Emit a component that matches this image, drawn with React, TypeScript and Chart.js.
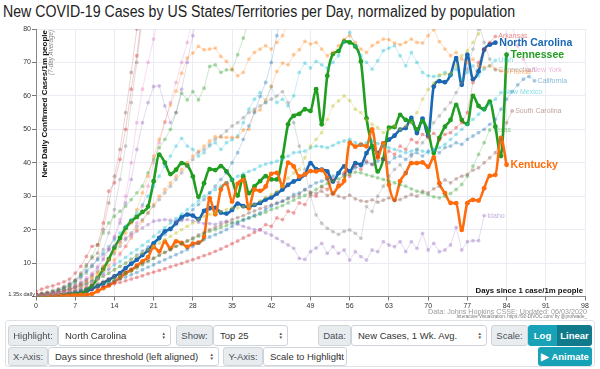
import React, { useEffect, useRef } from "react";
import { Chart, registerables } from "chart.js";
Chart.register(...registerables);

const FONT = '"Liberation Sans", Arial, Helvetica, sans-serif';

const titleText = "New COVID-19 Cases by US States/Territories per Day, normalized by population";
const yTitle = "New Daily Confirmed Cases/1m people";
const ySubTitle = "(7-day Average)";
const xTitle = "Days since 1 case/1m people";
const growthLabel = "1.35x daily";
const sourceLine1 = "Data: Johns Hopkins CSSE; Updated: 06/03/2020";
const sourceLine2 = "Interactive Visualization: https://91-DIVOC.com/ by @profwade_";

const xMax = 98;
const xStep = 7;
const yMax = 80;
const yStep = 10;

// Highlighted series: value index = days since threshold
const northCarolina = [0.3,0.35,0.4,0.45,0.5,0.6,0.75,0.9,1.1,1.5,2.3,3.1,4.0,5.0,6.0,7.0,8.5,9.8,11.0,12.4,13.8,15.9,17.5,19.5,20.2,22,23.7,24.5,24.2,23.1,25.6,26.4,26.5,25.1,24.8,25.9,27.8,27,26.8,27.4,28,29,29.6,30.8,32,33.4,34.4,35.2,36.5,39.9,38.1,37.9,37.4,34.4,36.9,38.9,37.4,39.9,39.4,42.9,44.9,42.9,45.7,46.9,48.1,49.9,50.4,53.4,48.9,53.2,48.1,62.8,64.4,64.1,66.3,71.3,63.3,72.3,65,67.3,73.8,75.3,75.9];
const tennessee = [0.3,0.35,0.4,0.45,0.5,0.55,0.65,0.75,0.8,2.0,3.2,5.5,8.2,11.2,14.6,17.5,20.5,22.5,23.8,25.3,26.9,34.5,42.4,40,36.6,37.9,39.9,39.2,35.9,29.8,33.9,38.1,37.8,39,37.4,34.9,30.2,36,30.9,32.9,34.5,36,35,35,41.7,51.5,54,54.6,56,55.5,62,51.5,66,72.5,73.4,76.3,76,74.8,70.3,53.3,44.9,37.4,41.1,50.5,50.7,54.3,52.8,52.4,50,52.4,49.4,42.9,47.4,50.8,52.8,57.3,52.8,51.6,60,57,56,58.3,50.8,42,72.3];
const kentucky = [0.3,0.3,0.3,0.35,0.35,0.4,0.4,0.4,0.45,0.5,0.8,1.6,2.5,3.3,4.4,5.6,7.0,7.9,9.2,10.5,11.8,14.8,13.5,16.4,14.4,16.5,16,14.8,15.8,16.1,17.9,29.4,24.6,32,33.8,28.4,33.7,34.8,26.4,32,31.6,32.9,36.7,37,33,40,38.9,35.9,36.5,37.5,37.4,37.8,35.5,30.8,33,34.6,46,44.8,45.4,44.9,50,41.6,45.8,33.4,28.9,34.5,36.9,39.9,39.9,40.1,38.8,41.6,33.9,30.9,28,27.9,19.9,27.9,28.9,28.7,32.4,36.1,36.4,47.4,39.4];

// Background states (start at day 0 unless a tail is given)
const bgRed = [1.5,2.2,2.8,3.2,3.8,4.4,5.2,7,9,12,15,15.4,22,31.5,34,41,50,62,72,86];
const bgBrown = [0.8,1,1.3,1.8,2.3,3,4,5,7,9.5,11.5,13,20,28,36,44,55,67,80,95];
const connecticutHead = [0.6,0.8,1,1.4,1.8,2.4,3.1,4,5.5,7,9,11.5,14,19,26,35,45,58,70,84];
const connecticutTail = [90,82,76,71,67.8]; // days 78-82
const newYorkHead = [0.5,0.7,0.9,1.2,1.5,2,2.6,3.4,4.4,5.6,7,9,11.5,14.5,18,23,30,40,52,62,70,77,85,95];
const newYorkTail = [88,81,75,71,67.6]; // days 84-88
const bgPurple = [0.4,0.6,0.8,1,1.3,1.7,2.2,2.9,3.8,5,6.5,8.5,11,14,17.5,22,28,35,44,52,58,62.8,63,57,52,55,62,70,78,88];
const bgPink = [0.4,0.5,0.6,0.8,1,1.3,1.6,2,2.6,3.3,4.2,5.3,6.6,8.2,10,12.5,15,18,22,27,33,40,46,52,58,64,70,76,84];
const bgPeach = [0.5,0.6,0.8,1,1.3,1.7,2.2,2.8,3.6,4.6,5.8,7.2,9,11,13.5,16,19,22,26,31,36,42,47,52.3,57.3,61.4,66.8,71.3,72.8,74.8,73.8,74,74.3,71.8,70.3,68,66,67,71,73,74,75,74,76,78,82];
const florida = [0.3,0.4,0.6,0.8,1.1,1.5,2,2.6,3.3,4.2,5.2,6.4,7.8,9.3,11,13,15,17.5,20,22.5,25,27.5,30,32,34,36,38,40,42,43.5,45,46.5,47.8,47.6,47.6,47.6,47.6,49.8,50,55.3,55.8,58.8,62.8,67.3,69.8,69.3,72.3,73.8,76.3,75.5,76,74,72,73,75,77,78,76,74,73,75,76,77,76.8,75.8,75.3,76,77,76,75.8,78,79.8,76.2,74,72,73,71,70,71,69,68.5,69,68,67.5,67.1];
const bgGreen = [0.4,0.6,0.9,1.3,1.8,2.4,3.2,4.5,6.5,9,12,15.5,19,22,24,25.5,27,29,31,33,37,41,44.5,47,50,55,60.8,58.8,61.3,58.8,62.3,68.8,69.3,67,67.8,67.8,72.3,77.3,82.3];
const olive = [0.3,0.4,0.6,0.8,1,1.3,1.8,2.3,2.9,3.5,4.3,5.1,6,7,8,9,10,11,12,13,14,15,16,17,18,19,20,21,22,23,24,24.5,25,25.5,26,26.5,26.5,26.8,27,27.5,28.6,29.7,30.5,31.5,33,35.4,37,38,41.5,45,47,49,53,57,58.5,60,58.6,56,55,52.8,51.5,50.5,49,50,51,50,51,52,55,59,61.9,63.8,66.3,66.5,66.8,69,72,73.5,76,78.5,82];
const utah = [0.5,0.7,1,1.4,2,2.7,3.5,4.6,6,7.5,9,11,13,15,17,19,21,23,25,27.5,30,33,36,39,42,45,47.3,45,44,42,43,45,46,44,46,46.9,48,52,56,59,61,58,62.8,58,59,57,60,67,69.8,68.3,70.3,69.3,68.3,70,72,76,79,75,72,70,68,70.5,73.5,74.3,75,72,69,73,70,67,66,65.8,66,67,66,68,65,67,69,66,68,69,70.6];
const newMexico = [0.4,0.5,0.7,1,1.3,1.7,2.2,2.7,3.3,4,4.8,5.8,7,8.2,9.4,10.5,11.7,13,14,15.3,16.5,18,19.3,20.6,22,23.3,24.6,26,27.3,28.6,30,31,32,33,34,35,36,36.7,37.4,38,39,39.6,40,40.5,41,42,43,43.2,43.5,44.5,45,44.8,44.5,45.2,46,46.5,47,46,45.5,46,46.5,45.8,45,44.5,44,43.5,43,43.5,44,43.5,43,43.8,44.5,45.5,47,48.5,50,51.5,53,54.5,56,57.5,59,61];
const california = [0.3,0.4,0.5,0.6,0.8,1,1.2,1.5,1.8,2.1,2.5,3,3.5,4,4.6,5.2,5.8,6.5,7.2,8,8.8,9.5,10.3,11,11.8,12.5,13.3,14,15,16,17,17.8,18.5,19.2,20,21,22,22.8,23.5,24.3,25,26,27,27.8,28.5,29.5,30.5,31,32,33,34,34.5,35,36,37,36.5,37.5,38.5,39,40,39.5,40.5,41,40,41.5,42,41,42.5,43,42,43.5,44,43,44.5,45,46,45.5,47,48,49,50,51.5,53,56,59,61.3,63.3,65,65.8,64.5];
const southCarolina = [0.3,0.4,0.5,0.7,0.9,1.2,1.5,1.9,2.3,2.8,3.3,3.9,4.5,5.2,5.9,6.6,7.4,8.2,9,9.8,10.7,11.5,12.4,13.2,14,15,15.8,16.7,17.5,18.4,19.2,20,20.7,21.4,22.2,23,23.6,24.2,25,25.6,26.3,26.8,27.4,28,28.5,29.2,29.8,30.5,31.9,31.2,30.8,31.5,30.2,30.9,30,29.5,30.3,29.2,28.6,28.4,28.9,28.2,28.8,29.5,28.7,29,29.8,30.5,30,31.5,31,32.2,33,34.9,34,35.2,36,36.5,37.8,38.5,40,41.5,43,47,52,55.5];
const texas = [0.3,0.4,0.5,0.6,0.8,1,1.2,1.5,1.9,2.3,2.8,3.3,3.9,4.5,5.2,6,6.8,7.6,8.5,9.5,10.5,11.4,12.3,13.2,14,15,15.8,16.5,17.2,18,18.8,19.5,20,20.6,21.2,22,22.4,23,23.5,24,24.6,25.2,26,26.5,27.2,28,28.8,29.6,30.2,31,32,33,33.8,34.6,35.2,36,36.5,37.2,37,36.4,36,35.5,35,34.5,34,33.4,33,32.2,31.5,31,30.4,29.8,29.5,30,30.8,32,33.5,36,39,42.5,46,49.8];
const idaho = [0.3,0.5,0.8,1.2,1.8,2.6,3.6,4.8,6.2,7.8,9.5,11,12.5,14,15.2,16.4,17.5,18.5,19.5,20.5,21.5,22.5,22.8,23,22.8,22.5,22.8,23,22.6,22.2,21.8,21.8,21.6,22.2,22.5,22,21.6,21,20.5,20,19.9,19,18.4,17.4,16.4,15.4,14.4,11.4,11.1,13.4,14.5,15.9,12.9,14.9,12.9,13.9,10.9,13.4,11.9,10.9,13.9,13.4,16.4,15.4,14.9,16.4,13.4,16.4,14.4,18.9,13.9,15.9,13.4,13.9,15.4,20.7,13.9,16.4,16.7,16.7,24.2];
const arkansas = [0.3,0.4,0.5,0.6,0.8,1,1.2,1.4,1.7,2,2.3,2.6,3,3.4,3.8,4.2,4.7,5.2,5.7,6.2,6.8,7.3,7.8,8.3,8.9,9.4,9.9,10.5,11,11.6,12.2,12.8,13.5,14.2,15,15.8,16.6,17.5,18.3,19.2,20,21.5,21,23.5,23,25.5,25,28,27.5,30.5,30,32.8,32,35,34,37,36,39,38,40.5,39.5,42,41,43.5,42.5,45,44,47,46,48.5,47.5,48.8,46.8,48.5,49,50.5,52,55,64,70,74,76,77.8];
const bgGray = [0.4,0.6,0.8,1,1.4,1.9,2.5,3.2,4,5,6.2,7.5,9,10.8,12.8,15,17,19,21,23,25,27,29,31,33,35,37,39,41,43,44,45.5,47,48,49.5,51,52,53.5,55,56,57,58,59,60,61.3,58,52,45,38,30,24.4,21.9,20.4,19.4,18.6,19.5,19.9,18.9,17.4,26.9,25.4,30,33,36,38,39.4,37,42,44,46,48,52,54,56,58,61,64,68,74,80,86];
const bgBlue = [0.4,0.5,0.7,1,1.3,1.7,2.1,2.6,3.2,3.8,4.5,5.3,6.1,7,8,9,10,11.2,12.4,13.6,14.8,16,17.3,18.6,20,21.5,23,24.5,26,27.5,29,31,33,35,37,40,43,47,51,55,59.8,64,70,78,86];

type Part = [number, number[]];
interface BgSeries { label: string; rgb: string; parts: Part[]; showLabel?: boolean; }

const background: BgSeries[] = [
  { label: "", rgb: "214,39,40", parts: [[0, bgRed]] },
  { label: "", rgb: "140,86,75", parts: [[0, bgBrown]] },
  { label: "", rgb: "148,103,189", parts: [[0, bgPurple]] },
  { label: "", rgb: "227,119,194", parts: [[0, bgPink]] },
  { label: "", rgb: "255,127,14", parts: [[0, bgPeach]] },
  { label: "", rgb: "44,160,44", parts: [[0, bgGreen]] },
  { label: "", rgb: "188,189,34", parts: [[0, olive]] },
  { label: "", rgb: "127,127,127", parts: [[0, bgGray]] },
  { label: "", rgb: "31,119,180", parts: [[0, bgBlue]] },
  { label: "Connecticut", rgb: "127,127,127", parts: [[0, connecticutHead], [78, connecticutTail]], showLabel: true },
  { label: "New York", rgb: "227,119,194", parts: [[0, newYorkHead], [84, newYorkTail]], showLabel: true },
  { label: "Florida", rgb: "255,127,14", parts: [[0, florida]], showLabel: true },
  { label: "Utah", rgb: "23,190,207", parts: [[0, utah]], showLabel: true },
  { label: "New Mexico", rgb: "23,190,207", parts: [[0, newMexico]], showLabel: true },
  { label: "California", rgb: "31,119,180", parts: [[0, california]], showLabel: true },
  { label: "South Carolina", rgb: "140,86,75", parts: [[0, southCarolina]], showLabel: true },
  { label: "Texas", rgb: "44,160,44", parts: [[0, texas]], showLabel: true },
  { label: "Idaho", rgb: "148,103,189", parts: [[0, idaho]], showLabel: true },
  { label: "Arkansas", rgb: "214,39,40", parts: [[0, arkansas]], showLabel: true },
];

const highlighted = [
  { label: "Kentucky", color: "#ff6c0c", values: kentucky },
  { label: "Tennessee", color: "#1f9e1f", values: tennessee },
  { label: "North Carolina", color: "#1a67b3", values: northCarolina },
];

const toPoints = (parts: Part[]) =>
  parts.flatMap(([start, vals]) => vals.map((v, i) => ({ x: start + i, y: v })));

const endLabelPlugin = {
  id: "endLabels",
  afterDatasetsDraw(chart: any) {
    const ctx = chart.ctx;
    chart.data.datasets.forEach((ds: any, i: number) => {
      if (!ds.endLabel) return;
      const meta = chart.getDatasetMeta(i);
      const last = meta.data[meta.data.length - 1];
      if (!last) return;
      ctx.save();
      ctx.font = ds.labelFont;
      ctx.fillStyle = ds.labelColor;
      ctx.textBaseline = "middle";
      ctx.textAlign = "left";
      ctx.fillText(ds.endLabel, last.x + ds.labelGap, last.y);
      ctx.restore();
    });
  },
};

const annotationPlugin = {
  id: "annotations",
  afterDraw(chart: any) {
    const { ctx, chartArea } = chart;
    ctx.save();
    ctx.translate(chartArea.left + 10.5, chartArea.top + 1);
    ctx.rotate(-Math.PI / 2);
    ctx.textAlign = "right";
    ctx.textBaseline = "alphabetic";
    ctx.fillStyle = "#111";
    ctx.font = `bold 8px ${FONT}`;
    ctx.fillText(yTitle, 0, 0);
    ctx.fillStyle = "#888";
    ctx.font = `italic 6.3px ${FONT}`;
    ctx.fillText(ySubTitle, 0, 6.5);
    ctx.restore();

    ctx.save();
    ctx.fillStyle = "#111";
    ctx.font = `bold 7.8px ${FONT}`;
    ctx.textAlign = "right";
    ctx.textBaseline = "alphabetic";
    ctx.fillText(xTitle, chartArea.right - 2, chartArea.bottom - 3.5);
    ctx.fillStyle = "#333";
    ctx.font = `5.6px ${FONT}`;
    ctx.fillText(growthLabel, chartArea.left - 1, chartArea.bottom - 0.5);
    ctx.restore();
  },
};

function ChartCanvas() {
  const ref = useRef<HTMLCanvasElement | null>(null);
  useEffect(() => {
    if (!ref.current) return;
    const datasets: any[] = [];
    background.forEach((s) => {
      datasets.push({
        data: toPoints(s.parts),
        borderColor: `rgba(${s.rgb},0.24)`,
        backgroundColor: `rgba(${s.rgb},0.36)`,
        pointBackgroundColor: `rgba(${s.rgb},0.38)`,
        pointBorderWidth: 0,
        pointRadius: 1.9,
        borderWidth: 1,
        tension: 0,
        endLabel: s.showLabel ? s.label : "",
        labelFont: `7px ${FONT}`,
        labelColor: `rgba(${s.rgb},0.55)`,
        labelGap: 3,
      });
    });
    highlighted.forEach((s) => {
      datasets.push({
        data: toPoints([[0, s.values]]),
        borderColor: s.color,
        backgroundColor: s.color,
        pointBackgroundColor: s.color,
        pointBorderWidth: 0,
        pointRadius: 2.4,
        borderWidth: 2.6,
        cubicInterpolationMode: "monotone",
        endLabel: s.label,
        labelFont: `bold 10.5px ${FONT}`,
        labelColor: s.color,
        labelGap: 4,
      });
    });
    const gridColor = "#ebebf3";
    const chart = new Chart(ref.current, {
      type: "line",
      data: { datasets },
      options: {
        animation: false,
        responsive: false,
        maintainAspectRatio: false,
        layout: { padding: { top: 9, right: 15, left: 0, bottom: 0 } },
        plugins: { legend: { display: false }, tooltip: { enabled: false }, title: { display: false } },
        scales: {
          x: {
            type: "linear",
            min: 0,
            max: xMax,
            ticks: { stepSize: xStep, font: { size: 7, family: FONT }, color: "#333", padding: 1, maxRotation: 0, autoSkip: false },
            grid: { color: gridColor, tickLength: 4, tickColor: "#777" },
            border: { color: "#888" },
            afterFit: (s: any) => { s.height = 23.5; },
          },
          y: {
            min: 0,
            max: yMax,
            ticks: { stepSize: yStep, font: { size: 7, family: FONT }, color: "#333", padding: 1, callback: (v: any) => (v === 0 ? "" : v) },
            grid: { color: gridColor, tickLength: 4, tickColor: "#777" },
            border: { color: "#888" },
            afterFit: (s: any) => { s.width = 36; },
          },
        },
      } as any,
      plugins: [endLabelPlugin, annotationPlugin],
    });
    return () => chart.destroy();
  }, []);
  return <canvas ref={ref} width={600} height={300} style={{ position: "absolute", left: 0, top: 20, width: 600, height: 300 }} />;
}

const labelStyle: React.CSSProperties = {
  position: "absolute", boxSizing: "border-box", background: "#e9ecef", border: "1px solid #ced4da",
  borderRadius: 3, color: "#495057", fontSize: 9.5, display: "flex", alignItems: "center", justifyContent: "center",
};
const selectStyle: React.CSSProperties = {
  position: "absolute", boxSizing: "border-box", background: "#fff", border: "1px solid #ced4da",
  borderRadius: 3, color: "#333", fontSize: 9.5, display: "flex", alignItems: "center", paddingLeft: 6,
};
const btnStyle: React.CSSProperties = {
  position: "absolute", boxSizing: "border-box", color: "#fff", fontSize: 9.5, fontWeight: "bold",
  display: "flex", alignItems: "center", justifyContent: "center",
};

function Lbl({ x, y, w, h, text }: any) {
  return <div style={{ ...labelStyle, left: x, top: y, width: w, height: h }}>{text}</div>;
}
function Sel({ x, y, w, h, text }: any) {
  return (
    <div style={{ ...selectStyle, left: x, top: y, width: w, height: h }}>
      {text}
      <div style={{ position: "absolute", right: 4, top: "50%", transform: "translateY(-50%)", fontSize: 4.5, lineHeight: "4.5px", color: "#555", textAlign: "center" }}>
        ▲<br />▼
      </div>
    </div>
  );
}

export default function App() {
  return (
    <div style={{ position: "fixed", left: 0, top: 0, width: 600, height: 369, background: "#fff", fontFamily: FONT, overflow: "hidden" }}>
      <div style={{ position: "absolute", left: 3, top: 4, fontSize: 16, lineHeight: "16px", color: "#222", whiteSpace: "nowrap", transform: "scaleX(0.885)", transformOrigin: "0 0" }}>{titleText}</div>
      <ChartCanvas />
      <div style={{ position: "absolute", right: 13, top: 307, fontSize: 7.2, color: "#9a9a9a", whiteSpace: "nowrap" }}>{sourceLine1}</div>
      <div style={{ position: "absolute", right: 13, top: 314, fontSize: 4.6, color: "#777", whiteSpace: "nowrap" }}>{sourceLine2}</div>
      <div style={{ position: "absolute", left: 5, top: 320, width: 590, height: 47, boxSizing: "border-box", border: "1px solid #dee2e6", borderRadius: 3 }} />
      <Lbl x={8} y={325} w={50} h={21} text="Highlight:" />
      <Sel x={58} y={325} w={113} h={21} text="North Carolina" />
      <Lbl x={176} y={325} w={37} h={21} text="Show:" />
      <Sel x={213} y={325} w={75} h={21} text="Top 25" />
      <Lbl x={318} y={325} w={33} h={21} text="Data:" />
      <Sel x={351} y={325} w={136} h={21} text="New Cases, 1 Wk. Avg." />
      <Lbl x={491} y={325} w={37} h={21} text="Scale:" />
      <div style={{ ...btnStyle, left: 528, top: 325, width: 29, height: 21, background: "#17a2b8", borderRadius: "3px 0 0 3px" }}>Log</div>
      <div style={{ ...btnStyle, left: 557, top: 325, width: 35, height: 21, background: "#117a8b", borderRadius: "0 3px 3px 0" }}>Linear</div>
      <Lbl x={8} y={347} w={40} h={19} text="X-Axis:" />
      <Sel x={48} y={347} w={171} h={19} text="Days since threshold (left aligned)" />
      <Lbl x={223} y={347} w={40} h={19} text="Y-Axis:" />
      <Sel x={263} y={347} w={84} h={19} text="Scale to Highlight" />
      <div style={{ ...btnStyle, left: 538, top: 347, width: 54, height: 19, background: "#17a2b8", borderRadius: 3 }}>▶ Animate</div>
    </div>
  );
}
